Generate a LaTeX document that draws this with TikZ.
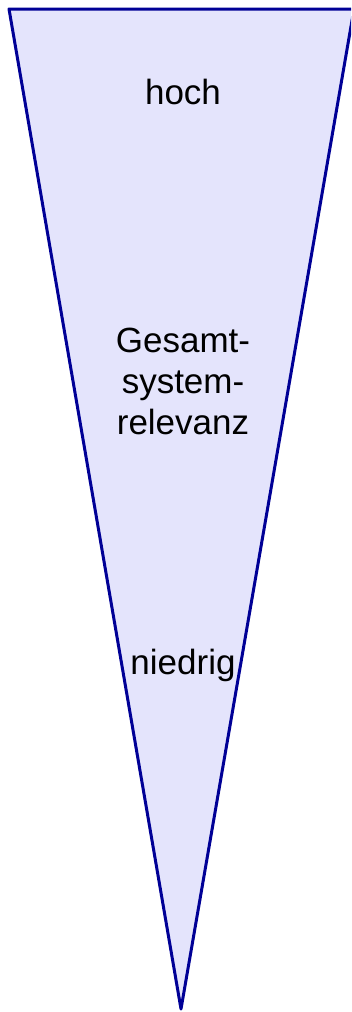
\documentclass[tikz,border=0pt]{standalone}
\usepackage{fontspec}
\setmainfont{Liberation Sans}
\definecolor{keilfill}{RGB}{228,228,252}
\definecolor{keilline}{RGB}{0,0,150}

\begin{document}
\begin{tikzpicture}[x=1pt,y=-1pt,
    label/.style={font=\fontsize{35}{41}\selectfont, align=center, inner sep=0pt}]
    \useasboundingbox (0,0) rectangle (351,1012);
    \coordinate (TL) at (9,9); \coordinate (TR) at (354,9);
    \coordinate (B) at (181,1009);
    \begin{scope}
      \clip (0,0) rectangle (351,1012);
      \draw[keilline, fill=keilfill, line width=3pt, line join=round] (TL) -- (TR) -- (B) -- cycle;
    \end{scope}
    \node[label] (hoch) at (183,92) {hoch};
    \node[label] (gesamt) at (183,381) {Gesamt-\\system-\\relevanz};
    \node[label] (niedrig) at (183,665) {niedrig};
  \end{tikzpicture}
\end{document}
